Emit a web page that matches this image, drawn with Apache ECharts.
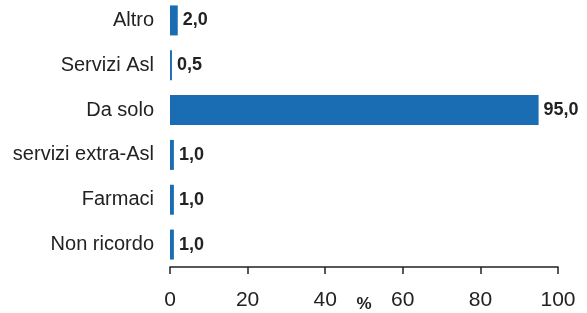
<!doctype html>
<html lang="it">
<head>
  <meta charset="utf-8" />
  <script src="https://cdn.jsdelivr.net/npm/echarts@6/dist/echarts.min.js"></script>
</head>
<body style="margin: 0">
  <div id="main" style="width: 587px; height: 313px"></div>
  <script>
    var categories = ['Non ricordo', 'Farmaci', 'servizi extra-Asl', 'Da solo', 'Servizi Asl', 'Altro'];
    var values = [1.0, 1.0, 1.0, 95.0, 0.5, 2.0];
    var xTicks = [0, 20, 40, 60, 80, 100];

    var chart = echarts.init(document.getElementById('main'));
    var font = "'Liberation Sans', Arial, sans-serif";

    chart.setOption({
      animation: false,
      textStyle: { fontFamily: font },
      grid: { left: 170, right: 29, top: -2, bottom: 46, outerBoundsMode: 'none' },
      xAxis: {
        type: 'value',
        min: xTicks[0],
        max: xTicks[xTicks.length - 1],
        interval: 20,
        name: '%',
        nameLocation: 'middle',
        nameGap: 29,
        nameMoveOverlap: false,
        nameTextStyle: { fontSize: 17, fontWeight: 'bold', color: '#222', fontFamily: font },
        axisLine: { show: true, lineStyle: { color: '#222', width: 1.5 } },
        axisTick: { show: true, length: 7, lineStyle: { color: '#222', width: 1.5 } },
        axisLabel: { fontSize: 21, color: '#222', margin: 23, fontFamily: font },
        splitLine: { show: false }
      },
      yAxis: {
        type: 'category',
        data: categories,
        axisLine: { show: false },
        axisTick: { show: false },
        axisLabel: { fontSize: 20, color: '#222', margin: 16, fontFamily: font }
      },
      series: [{
        type: 'bar',
        data: values,
        barWidth: 30,
        itemStyle: { color: '#1a6db3' },
        label: {
          show: true,
          position: 'right',
          distance: 5,
          fontSize: 18,
          fontWeight: 'bold',
          color: '#222',
          fontFamily: font,
          formatter: function (p) { return p.value.toFixed(1).replace('.', ','); }
        }
      }]
    });
  </script>
</body>
</html>
